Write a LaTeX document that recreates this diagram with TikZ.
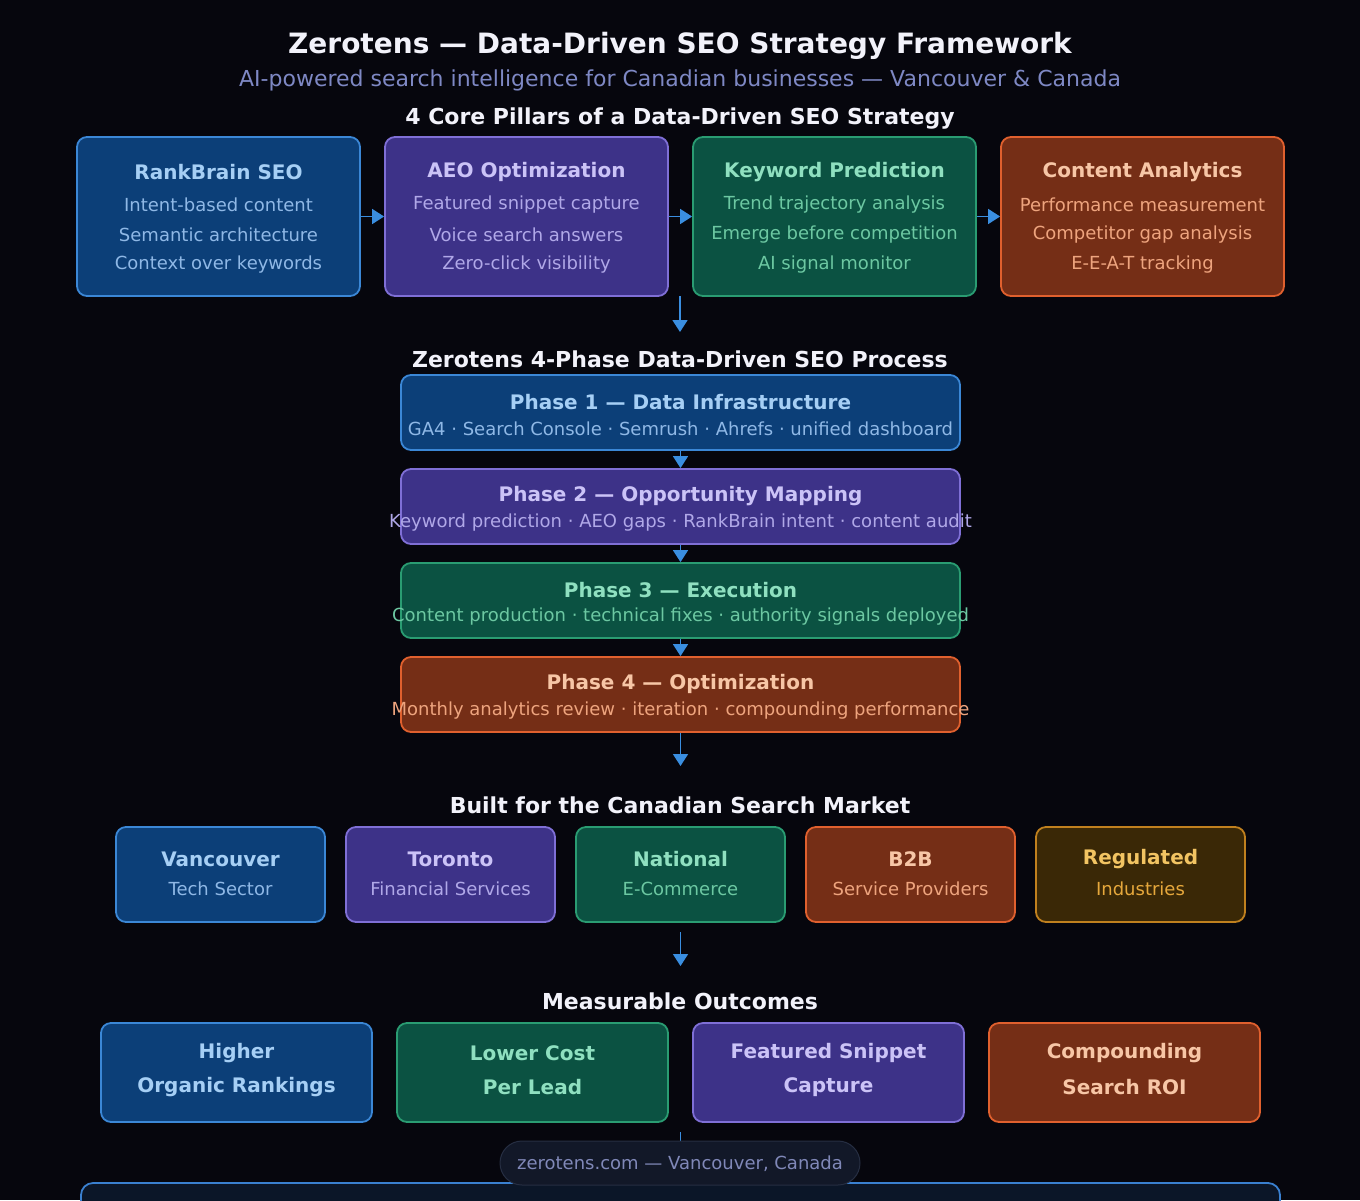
\documentclass[tikz,border=0pt]{standalone}
\usepackage{fontspec}
\setmainfont{DejaVu Sans}
\usetikzlibrary{arrows.meta}
\definecolor{bg}{HTML}{06060D}
\definecolor{bfill}{HTML}{0C3F78}\definecolor{bline}{HTML}{3B87D6}\definecolor{btitle}{HTML}{A6CFF5}\definecolor{bsub}{HTML}{8FB8E6}
\definecolor{pfill}{HTML}{3D3288}\definecolor{pline}{HTML}{7F6FD6}\definecolor{ptitle}{HTML}{CBC3F7}\definecolor{psub}{HTML}{B0A8E8}
\definecolor{gfill}{HTML}{0B5242}\definecolor{gline}{HTML}{2A9C72}\definecolor{gtitle}{HTML}{8FE0C0}\definecolor{gsub}{HTML}{6CC8A2}
\definecolor{ofill}{HTML}{752E16}\definecolor{oline}{HTML}{E0602E}\definecolor{otitle}{HTML}{F7C6A6}\definecolor{osub}{HTML}{EEA47E}
\definecolor{yfill}{HTML}{3A2806}\definecolor{yline}{HTML}{C0801E}\definecolor{ytitle}{HTML}{F2C462}\definecolor{ysub}{HTML}{E6A83C}
\definecolor{arrowc}{HTML}{3A8EE0}
\definecolor{headc}{HTML}{F2F2FA}
\definecolor{subtc}{HTML}{7E88C4}
\definecolor{pillfill}{HTML}{121828}\definecolor{pillline}{HTML}{262E42}\definecolor{pilltext}{HTML}{8088B8}
\definecolor{botfill}{HTML}{0B1628}\definecolor{botline}{HTML}{3A80D0}
\tikzset{
  card/.style={draw, line width=1.8pt, rounded corners=10pt, inner sep=0pt},
  bluecard/.style={card, fill=bfill, draw=bline},
  purplecard/.style={card, fill=pfill, draw=pline},
  greencard/.style={card, fill=gfill, draw=gline},
  orangecard/.style={card, fill=ofill, draw=oline},
  goldcard/.style={card, fill=yfill, draw=yline},
  pillarbox/.style={minimum width=283pt, minimum height=159pt},
  phasebox/.style={minimum width=559pt, minimum height=75pt},
  marketbox/.style={minimum width=209pt, minimum height=95pt},
  outbox/.style={minimum width=271pt, minimum height=99pt},
  txt/.style={inner sep=0pt, text depth=0pt},
  bigtitle/.style={txt, text height=20.4pt, text=headc, font=\bfseries\fontsize{28}{32}\selectfont},
  subtitle/.style={txt, text height=16pt, text=subtc, font=\fontsize{22}{26}\selectfont},
  heading/.style={txt, text height=16pt, text=headc, font=\bfseries\fontsize{22}{26}\selectfont},
  cardtitle/.style={txt, text height=14.6pt, font=\bfseries\fontsize{20}{24}\selectfont},
  cardsub/.style={txt, text height=13.1pt, font=\fontsize{18}{22}\selectfont},
  arr/.style={draw=arrowc, line width=1.6pt, -{Triangle[length=12pt,width=15pt]}},
  link/.style={draw=arrowc, line width=1.6pt},
}
\begin{document}
\begin{tikzpicture}[x=1pt,y=-1pt]
\fill[bg] (0,0) rectangle (1360,1200);
\useasboundingbox (0,0) rectangle (1360,1200);
\clip (0,0) rectangle (1360,1200);

% titles
\node[bigtitle] (title) at (680,43) {Zerotens — Data-Driven SEO Strategy Framework};
\node[subtitle] (subt) at (680,78) {AI-powered search intelligence for Canadian businesses — Vancouver \& Canada};
\node[heading] (h1) at (680,116) {4 Core Pillars of a Data-Driven SEO Strategy};

% pillars
\node[bluecard,pillarbox] (p1) at (218.5,216.5) {};
\node[purplecard,pillarbox] (p2) at (526.5,216.5) {};
\node[greencard,pillarbox] (p3) at (834.5,216.5) {};
\node[orangecard,pillarbox] (p4) at (1142.5,216.5) {};

\node[cardtitle,text=btitle] (p1t) at (218.5,172) {RankBrain SEO};
\node[cardsub,text=bsub] (p1a) at (218.5,205) {Intent-based content};
\node[cardsub,text=bsub] (p1b) at (218.5,235) {Semantic architecture};
\node[cardsub,text=bsub] (p1c) at (218.5,263) {Context over keywords};

\node[cardtitle,text=ptitle] (p2t) at (526.5,170) {AEO Optimization};
\node[cardsub,text=psub] (p2a) at (526.5,203) {Featured snippet capture};
\node[cardsub,text=psub] (p2b) at (526.5,235) {Voice search answers};
\node[cardsub,text=psub] (p2c) at (526.5,263) {Zero-click visibility};

\node[cardtitle,text=gtitle] (p3t) at (834.5,170) {Keyword Prediction};
\node[cardsub,text=gsub] (p3a) at (834.5,203) {Trend trajectory analysis};
\node[cardsub,text=gsub] (p3b) at (834.5,233) {Emerge before competition};
\node[cardsub,text=gsub] (p3c) at (834.5,263) {AI signal monitor};

\node[cardtitle,text=otitle] (p4t) at (1142.5,170) {Content Analytics};
\node[cardsub,text=osub] (p4a) at (1142.5,205) {Performance measurement};
\node[cardsub,text=osub] (p4b) at (1142.5,233) {Competitor gap analysis};
\node[cardsub,text=osub] (p4c) at (1142.5,263) {E-E-A-T tracking};

\draw[arr] (p1.east) -- (p2.west);
\draw[arr] (p2.east) -- (p3.west);
\draw[arr] (p3.east) -- (p4.west);

\coordinate (d1s) at (680,296);
\coordinate (d1e) at (680,332);
\draw[arr] (d1s) -- (d1e);

% phases
\node[heading] (h2) at (680,359) {Zerotens 4-Phase Data-Driven SEO Process};
\node[bluecard,phasebox] (ph1) at (680.5,412.5) {};
\node[purplecard,phasebox] (ph2) at (680.5,506.5) {};
\node[greencard,phasebox] (ph3) at (680.5,600.5) {};
\node[orangecard,phasebox] (ph4) at (680.5,694.5) {};

\node[cardtitle,text=btitle] (ph1t) at (680.5,402) {Phase 1 — Data Infrastructure};
\node[cardsub,text=bsub] (ph1s) at (680.5,429) {GA4 · Search Console · Semrush · Ahrefs · unified dashboard};
\node[cardtitle,text=ptitle] (ph2t) at (680.5,494) {Phase 2 — Opportunity Mapping};
\node[cardsub,text=psub] (ph2s) at (680.5,521) {Keyword prediction · AEO gaps · RankBrain intent · content audit};
\node[cardtitle,text=gtitle] (ph3t) at (680.5,590) {Phase 3 — Execution};
\node[cardsub,text=gsub] (ph3s) at (680.5,615) {Content production · technical fixes · authority signals deployed};
\node[cardtitle,text=otitle] (ph4t) at (680.5,682) {Phase 4 — Optimization};
\node[cardsub,text=osub] (ph4s) at (680.5,709) {Monthly analytics review · iteration · compounding performance};

\draw[arr] (ph1.south) -- (ph2.north);
\draw[arr] (ph2.south) -- (ph3.north);
\draw[arr] (ph3.south) -- (ph4.north);
\coordinate (d2e) at (680.5,766);
\draw[arr] (ph4.south) -- (d2e);

% market
\node[heading] (h3) at (680,805) {Built for the Canadian Search Market};
\node[bluecard,marketbox] (m1) at (220.5,874.5) {};
\node[purplecard,marketbox] (m2) at (450.5,874.5) {};
\node[greencard,marketbox] (m3) at (680.5,874.5) {};
\node[orangecard,marketbox] (m4) at (910.5,874.5) {};
\node[goldcard,marketbox] (m5) at (1140.5,874.5) {};

\node[cardtitle,text=btitle] (m1t) at (220.5,859) {Vancouver};
\node[cardsub,text=bsub] (m1s) at (220.5,889) {Tech Sector};
\node[cardtitle,text=ptitle] (m2t) at (450.5,859) {Toronto};
\node[cardsub,text=psub] (m2s) at (450.5,889) {Financial Services};
\node[cardtitle,text=gtitle] (m3t) at (680.5,859) {National};
\node[cardsub,text=gsub] (m3s) at (680.5,889) {E-Commerce};
\node[cardtitle,text=otitle] (m4t) at (910.5,859) {B2B};
\node[cardsub,text=osub] (m4s) at (910.5,889) {Service Providers};
\node[cardtitle,text=ytitle] (m5t) at (1140.5,857) {Regulated};
\node[cardsub,text=ysub] (m5s) at (1140.5,889) {Industries};

\coordinate (d3s) at (680.5,932);
\coordinate (d3e) at (680.5,966);
\draw[arr] (d3s) -- (d3e);

% outcomes
\node[heading] (h4) at (680,1001) {Measurable Outcomes};
\node[bluecard,outbox] (o1) at (236.5,1072.5) {};
\node[greencard,outbox] (o2) at (532.5,1072.5) {};
\node[purplecard,outbox] (o3) at (828.5,1072.5) {};
\node[orangecard,outbox] (o4) at (1124.5,1072.5) {};

\node[cardtitle,text=btitle] (o1a) at (236.5,1051) {Higher};
\node[cardtitle,text=btitle] (o1b) at (236.5,1085) {Organic Rankings};
\node[cardtitle,text=gtitle] (o2a) at (532.5,1053) {Lower Cost};
\node[cardtitle,text=gtitle] (o2b) at (532.5,1087) {Per Lead};
\node[cardtitle,text=ptitle] (o3a) at (828.5,1051) {Featured Snippet};
\node[cardtitle,text=ptitle] (o3b) at (828.5,1085) {Capture};
\node[cardtitle,text=otitle] (o4a) at (1124.5,1051) {Compounding};
\node[cardtitle,text=otitle] (o4b) at (1124.5,1087) {Search ROI};

% footer
\coordinate (d4s) at (680.5,1132);
\coordinate (d4e) at (680.5,1152);
\draw[link] (d4s) -- (d4e);
\draw[draw=botline, fill=botfill, line width=1.8pt, rounded corners=12pt] (81,1183) rectangle (1280,1240);
\node[draw=pillline, fill=pillfill, line width=1pt, rounded corners=22pt, minimum width=360pt, minimum height=44pt, inner sep=0pt, text=pilltext, font=\fontsize{18}{22}\selectfont, text height=13.1pt, text depth=0pt] (foot) at (680,1163) {zerotens.com — Vancouver, Canada};
\end{tikzpicture}
\end{document}
